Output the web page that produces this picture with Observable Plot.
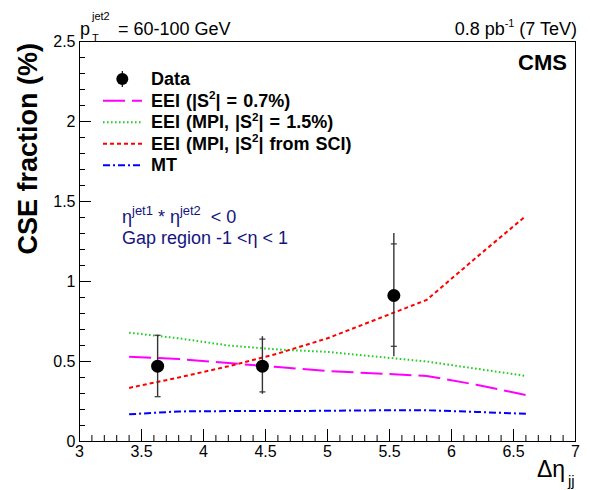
<!DOCTYPE html>
<html><head><meta charset="utf-8">
<script src="https://cdn.jsdelivr.net/npm/d3@7"></script>
<script src="https://cdn.jsdelivr.net/npm/@observablehq/plot@0.6"></script>
<style>
body{margin:0;background:#fff;}
#chart{position:relative;width:590px;height:490px;}
</style>
</head><body><div id="chart"></div>
<script>
// ---- Data ----
const dataX   = [3.63, 4.475, 5.535];
const dataY   = [0.471, 0.471, 0.9125];
const statLo  = [0.28, 0.31, 0.595];
const statHi  = [0.664, 0.64, 1.235];
const totLo   = [0.28, 0.295, 0.53];
const totHi   = [0.664, 0.655, 1.30];

const modelX    = [3.4, 3.8, 4.2, 4.6, 5.0, 5.4, 5.8, 6.2, 6.6];
const eei07     = [0.53, 0.515, 0.49, 0.465, 0.44, 0.425, 0.41, 0.355, 0.29];
const eeiMpi15  = [0.68, 0.645, 0.60, 0.575, 0.56, 0.53, 0.50, 0.455, 0.41];
const eeiMpiSci = [0.335, 0.40, 0.47, 0.55, 0.645, 0.765, 0.885, 1.15, 1.41];
const mtVals    = [0.17, 0.188, 0.19, 0.19, 0.192, 0.195, 0.195, 0.185, 0.173];

const seriesLabels = [
  [["EEI (|S"], ["2","sup"], ["| = 0.7%)"]],
  [["EEI (MPI, |S"], ["2","sup"], ["| = 1.5%)"]],
  [["EEI (MPI, |S"], ["2","sup"], ["| from SCI)"]],
  [["MT"]]
];
const seriesColors = ["#ff00ff", "#22cc22", "#ff0000", "#0000ff"];
const seriesDash   = ["22,7", "1.6,2.4", "4,3", "7,3,2,3"];
const seriesValues = [eei07, eeiMpi15, eeiMpiSci, mtVals];

const xMajor = [3, 3.5, 4, 4.5, 5, 5.5, 6, 6.5, 7];
const yMajor = [0, 0.5, 1, 1.5, 2, 2.5];
const xMinor = d3.range(30, 71).map(d => d / 10).filter(d => !xMajor.includes(d));
const yMinor = d3.range(0, 26).map(d => d / 10).filter(d => !yMajor.includes(d));

// ---- Build tables ----
const lineData = seriesValues.flatMap((vals, s) => modelX.map((x, i) => ({x, y: vals[i], s})));
const points = dataX.map((x, i) => ({x, y: dataY[i], slo: statLo[i], shi: statHi[i], tlo: totLo[i], thi: totHi[i]}));
const caps = points.flatMap(p => [{x: p.x, y: p.slo}, {x: p.x, y: p.shi}]);

const W = 590, H = 490, mL = 79, mR = 15, mT = 41, mB = 49;
const innerW = W - mL - mR, innerH = H - mT - mB;

const capSymbol = {draw(ctx, size) { const r = Math.sqrt(size / Math.PI); ctx.moveTo(-r, 0); ctx.lineTo(r, 0); }};

const marks = [
  Plot.frame({stroke: "black", strokeWidth: 1}),
  Plot.tickX(xMajor, {x: d => d, insetTop: innerH - 12, stroke: "black"}),
  Plot.tickX(xMinor, {x: d => d, insetTop: innerH - 6, stroke: "black"}),
  Plot.tickY(yMajor, {y: d => d, insetRight: innerW - 12, stroke: "black"}),
  Plot.tickY(yMinor, {y: d => d, insetRight: innerW - 6, stroke: "black"}),
  Plot.axisX({ticks: xMajor, tickSize: 0, tickPadding: 4, label: null, tickFormat: d => String(d), fontSize: 16}),
  Plot.axisY({ticks: yMajor, tickSize: 0, tickPadding: 4, label: null, tickFormat: d => String(d), fontSize: 16}),
];
seriesValues.forEach((vals, s) => {
  marks.push(Plot.line(lineData.filter(d => d.s === s), {x: "x", y: "y", stroke: seriesColors[s], strokeWidth: 2, strokeDasharray: seriesDash[s], strokeLinecap: "butt", strokeLinejoin: "miter"}));
});
marks.push(
  Plot.ruleX(points, {x: "x", y1: "tlo", y2: "thi", stroke: "#333", strokeWidth: 1.4}),
  Plot.dot(caps, {x: "x", y: "y", r: 3, symbol: capSymbol, stroke: "#333", strokeWidth: 1.2, fill: "none"}),
  Plot.dot(points, {x: "x", y: "y", r: 6.5, fill: "black", stroke: "none"})
);

const svg = Plot.plot({
  width: W, height: H,
  marginLeft: mL, marginRight: mR, marginTop: mT, marginBottom: mB,
  x: {domain: [3, 7]},
  y: {domain: [0, 2.5]},
  style: {fontFamily: "'Liberation Sans', Arial, Helvetica, sans-serif", fontSize: "16px", color: "black", background: "white"},
  marks
});
document.getElementById("chart").appendChild(svg);

// ---- Text overlays (titles, legend) ----
const font = "'Liberation Sans', Arial, Helvetica, sans-serif";
const g = d3.select(svg).append("g").attr("font-family", font);

function richText(x, y, parts, {size = 16, weight = "normal", anchor = "start", fill = "black", supScale = 0.62, spacing = 0} = {}) {
  const t = g.append("text").attr("x", x).attr("y", y).attr("font-size", size)
    .attr("font-weight", weight).attr("text-anchor", anchor).attr("fill", fill);
  if (spacing) t.attr("word-spacing", spacing);
  let shift = 0;
  parts.forEach(([s, kind]) => {
    const ts = t.append("tspan").text(s);
    const target = kind === "sup" ? -0.42 * size : kind === "sub" ? 0.3 * size : 0;
    if (target - shift !== 0) ts.attr("dy", target - shift);
    shift = target;
    if (kind) ts.attr("font-size", size * supScale);
  });
  return t;
}

// Top-left: p_T^{jet2} = 60-100 GeV
richText(80, 35, [["p"]], {size: 18});
richText(92, 20, [["jet2"]], {size: 11});
richText(92, 42, [["T"]], {size: 11});
richText(118, 35, [["= 60-100 GeV"]], {size: 18});
// Top-right
richText(577, 35, [["0.8 pb"], ["-1", "sup"], [" (7 TeV)"]], {size: 18, anchor: "end", supScale: 0.6});
// CMS
richText(567, 70, [["CMS"]], {size: 22, weight: "bold", anchor: "end"});

// Legend
const legX1 = 103, legX2 = 142, legText = 151;
const rowY = [79, 100.7, 122.3, 143.8, 165.3];
g.append("line").attr("x1", 122.3).attr("x2", 122.3).attr("y1", 71).attr("y2", 87).attr("stroke", "black").attr("stroke-width", 1.2);
g.append("circle").attr("cx", 122.3).attr("cy", rowY[0]).attr("r", 6).attr("fill", "black");
richText(legText, rowY[0] + 6, [["Data"]], {size: 18, weight: "bold"});
seriesLabels.forEach((parts, s) => {
  const y = rowY[s + 1];
  g.append("line").attr("x1", legX1).attr("x2", legX2).attr("y1", y).attr("y2", y)
    .attr("stroke", seriesColors[s]).attr("stroke-width", 2).attr("stroke-dasharray", seriesDash[s]);
  richText(legText, y + 6, parts, {size: 18, weight: "bold", supScale: 0.65, spacing: 1});
});

// Annotation
const navy = "#141480";
richText(122, 223, [["η"], ["jet1", "sup"], [" * η"], ["jet2", "sup"], ["  < 0"]], {size: 18, fill: navy, supScale: 0.72});
richText(122, 244, [["Gap region -1 <η < 1"]], {size: 18, fill: navy});

// Y axis title
g.append("text").attr("transform", "translate(37,43) rotate(-90)").attr("text-anchor", "end")
  .attr("font-size", 27).attr("font-weight", "bold").text("CSE fraction (%)");

// X axis title
richText(537, 477, [["Δη"]], {size: 23});
richText(568, 486, [["jj"]], {size: 15});
</script>
</body></html>
